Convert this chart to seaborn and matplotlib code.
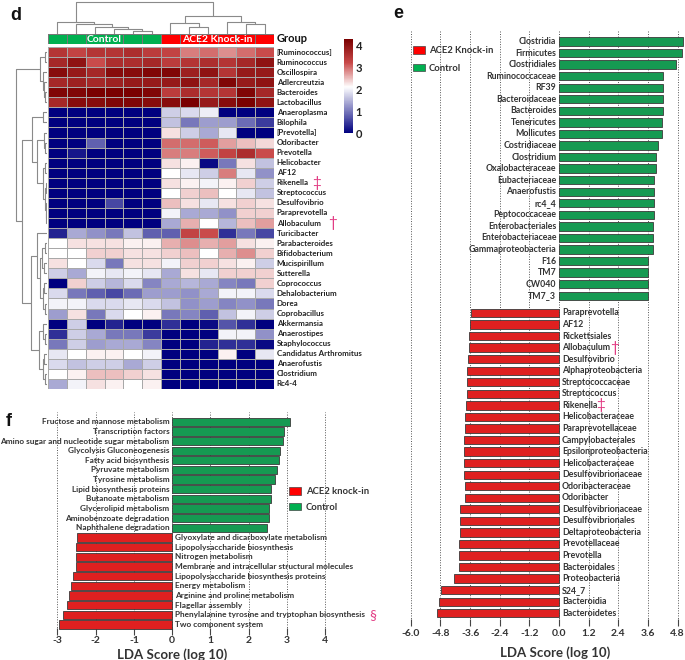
import numpy as np
import pandas as pd
import matplotlib
matplotlib.use('Agg')
import matplotlib.pyplot as plt
import seaborn as sns
from matplotlib.colors import LinearSegmentedColormap, ListedColormap
from matplotlib.patches import Patch

# ======================
# DATA - panel d (heatmap of genus abundance, log scale)
# ======================
genera = ['[Ruminococcus]', 'Ruminococcus', 'Oscillospira', 'Adlercreutzia', 'Bacteroides',
          'Lactobacillus', 'Anaeroplasma', 'Bilophila', '[Prevotella]', 'Odoribacter',
          'Prevotella', 'Helicobacter', 'AF12', 'Rikenella', 'Streptococcus', 'Desulfovibrio',
          'Paraprevotella', 'Allobaculum', 'Turicibacter', 'Parabacteroides', 'Bifidobacterium',
          'Mucispirillum', 'Sutterella', 'Coprococcus', 'Dehalobacterium', 'Dorea',
          'Coprobacillus', 'Akkermansia', 'Anaerostipes', 'Staphylococcus',
          'Candidatus Arthromitus', 'Anaerofustis', 'Clostridium', 'Rc4-4']
samples = ['C1', 'C2', 'C3', 'C4', 'C5', 'C6', 'K1', 'K2', 'K3', 'K4', 'K5', 'K6']
sample_group = ['Control'] * 6 + ['ACE2 Knock-in'] * 6

ctrl_abund = [
    [3.5, 3.3, 3.5, 3.5, 3.6, 3.4], [3.7, 4.0, 3.2, 3.6, 3.6, 3.7],
    [4.1, 3.9, 3.7, 4.1, 4.1, 4.2], [3.7, 3.8, 3.7, 3.8, 3.9, 3.9],
    [4.2, 4.2, 4.3, 4.3, 4.3, 4.2], [3.7, 4.1, 4.1, 4.2, 4.2, 4.1],
    [0, 0, 0, 0, 0, 0], [0, 0, 0, 0, 0, 0], [0, 0, 0, 0, 0, 0],
    [0, 0, 0.8, 0, 0, 0], [0, 0.2, 0, 0, 0, 0], [0, 0, 0, 0, 0, 0],
    [0, 0, 0, 0, 0, 0], [0, 0, 0, 0, 0, 0], [0, 0, 0, 0, 0, 0],
    [0, 0, 0, 0.6, 0, 0], [0, 0, 0, 0, 0, 0], [0, 0, 0, 0, 0, 0],
    [0.3, 1.4, 1.2, 1.0, 1.6, 0.8], [2.1, 2.3, 2.3, 2.3, 2.2, 2.2],
    [2.1, 2.1, 2.4, 2.4, 2.3, 2.3], [2.3, 2.1, 1.8, 1.0, 2.3, 2.3],
    [1.7, 1.4, 2.0, 1.9, 2.0, 1.9], [0, 2.4, 1.7, 1.5, 1.8, 1.1],
    [1.8, 1.0, 0.8, 0.6, 0.9, 1.3], [2.0, 2.0, 1.8, 1.8, 1.9, 1.8],
    [1.3, 2.3, 1.0, 1.8, 2.1, 2.2], [0, 1.7, 0, 0.3, 0, 0],
    [0.4, 1.7, 1.4, 1.0, 1.0, 0.5], [1.0, 1.7, 1.3, 1.4, 1.4, 1.1],
    [1.9, 2.1, 2.2, 2.2, 2.1, 2.0], [1.8, 1.6, 1.7, 1.7, 1.4, 1.7],
    [2.1, 2.2, 2.5, 2.5, 2.4, 2.3], [1.4, 2.0, 2.3, 2.2, 2.1, 2.2],
]
ace2_abund = [
    [3.3, 2.9, 3.0, 2.8, 3.0, 3.2], [3.4, 3.5, 3.6, 3.5, 3.7, 4.0],
    [4.2, 3.8, 4.0, 3.5, 3.9, 3.9], [3.9, 4.0, 3.7, 4.2, 3.9, 4.0],
    [3.4, 3.6, 3.5, 3.5, 4.2, 3.7], [4.1, 4.3, 3.9, 4.1, 4.3, 4.0],
    [1.7, 1.8, 1.95, 0, 0, 0], [1.6, 1.0, 1.3, 1.3, 0.9, 0.5],
    [2.3, 1.7, 1.4, 1.9, 0, 0], [3.0, 3.0, 3.1, 2.7, 2.5, 2.35],
    [2.9, 2.9, 3.1, 3.3, 3.6, 3.2], [2.3, 2.2, 0.1, 1.0, 2.3, 1.6],
    [2.1, 1.9, 1.7, 2.9, 1.9, 1.2], [2.3, 2.2, 2.0, 2.2, 2.4, 1.7],
    [2.1, 2.4, 2.5, 2.1, 1.9, 1.6], [2.5, 2.3, 1.9, 2.3, 2.4, 2.3],
    [2.0, 1.4, 1.4, 1.2, 2.4, 2.4], [1.4, 2.6, 2.1, 1.5, 2.5, 2.7],
    [0.8, 3.3, 3.2, 0.4, 1.0, 0.6], [2.6, 2.8, 2.6, 2.7, 2.3, 2.2],
    [2.4, 2.5, 2.1, 2.6, 2.8, 2.4], [2.0, 2.4, 2.4, 2.3, 2.2, 1.7],
    [1.4, 2.3, 1.9, 2.4, 2.4, 2.4], [1.4, 1.5, 1.4, 1.1, 1.0, 2.4],
    [1.3, 1.2, 1.4, 2.0, 2.0, 1.8], [1.6, 1.2, 1.3, 1.1, 1.2, 1.0],
    [1.0, 1.1, 0.8, 1.6, 2.0, 1.7], [0.4, 0, 0.1, 0.7, 0.4, 0],
    [0, 0, 0, 2.0, 2.0, 1.2], [0, 0, 0.3, 0.4, 0.4, 0.1],
    [0, 0, 0, 2.2, 0, 1.9], [0, 0, 0, 0, 0, 0],
    [0, 0, 0, 0, 0, 0], [0, 0, 0, 0, 0, 0],
]

# cluster trees: (left, right, height), leaves are row/column indices
row_tree = (((0, 1, 2), (2, (3, (4, 5, 2), 3), 4), 7),
            (((6, 7, 4),
              ((8, (9, 10, 2), 3), ((11, 12, 2), ((13, 14, 1), (15, (16, 17, 1), 1.5), 2), 4), 10),
              15),
             ((18, (((19, 20, 2), (21, 22, 3), 5), ((23, 24, 3), (25, 26, 2), 4), 7), 10),
              ((27, (28, 29, 2), 4), ((30, 31, 3), (32, 33, 2), 4), 8),
              16),
             25),
            31)
col_tree = ((0, (1, (2, (3, (4, 5, 8), 15), 20), 28), 35),
            ((6, (7, 8, 20), 33), (9, (10, 11, 28), 35), 52),
            95)

# ======================
# DATA - panel e (LEfSe taxa)
# ======================
e_ctrl_taxa = ['Clostridia', 'Firmicutes', 'Clostridiales', 'Ruminococcaceae', 'RF39',
               'Bacteroidaceae', 'Bacteroides', 'Tenericutes', 'Mollicutes', 'Costridiaceae',
               'Clostridium', 'Oxalobacteraceae', 'Eubacteriaceae', 'Anaerofustis', 'rc4_4',
               'Peptococcaceae', 'Enterobacteriales', 'Enterobacteriaceae',
               'Gammaproteobacteria', 'F16', 'TM7', 'CW040', 'TM7_3']
e_ctrl_lda = [5.03, 4.97, 4.72, 4.22, 4.20, 4.20, 4.22, 4.16, 4.16, 4.02, 3.91, 3.91,
              3.85, 3.84, 3.83, 3.84, 3.79, 3.79, 3.79, 3.62, 3.62, 3.62, 3.62]
e_ace2_taxa = ['Paraprevotella', 'AF12', 'Rickettsiales', 'Allobaculum', 'Desulfovibrio',
               'Alphaproteobacteria', 'Streptococcaceae', 'Streptococcus', 'Rikenella',
               'Helicobacteraceae', 'Paraprevotellaceae', 'Campylobacterales',
               'Epsilonproteobacteria', 'Helicobacteraceae', 'Desulfovibrionaceae',
               'Odoribacteraceae', 'Odoribacter', 'Desulfovibrionaceae', 'Desulfovibrionales',
               'Deltaproteobacteria', 'Prevotellaceae', 'Prevotella', 'Bacteroidales',
               'Proteobacteria', 'S24_7', 'Bacteroidia', 'Bacteroidetes']
e_ace2_lda = [-3.56, -3.59, -3.63, -3.63, -3.70, -3.71, -3.71, -3.71, -3.77, -3.81, -3.81,
              -3.83, -3.83, -3.83, -3.83, -3.82, -3.82, -4.01, -4.01, -4.01, -4.06, -4.06,
              -4.06, -4.25, -4.79, -4.87, -4.95]
e_ticks = [-6.0, -4.8, -3.6, -2.4, -1.2, 0.0, 1.2, 2.4, 3.6, 4.8]

# ======================
# DATA - panel f (predicted KEGG pathways)
# ======================
f_ctrl_paths = ['Fructose and mannose metabolism', 'Transcription factors',
                'Amino sugar and nucleotide sugar metabolism', 'Glycolysis Gluconeogenesis',
                'Fatty acid biosynthesis', 'Pyruvate metabolism', 'Tyrosine metabolism',
                'Lipid biosynthesis proteins', 'Butanoate metabolism', 'Glycerolipid metabolism',
                'Aminobenzoate degradation', 'Naphthalene degradation']
f_ctrl_lda = [3.09, 2.93, 2.90, 2.81, 2.78, 2.73, 2.68, 2.58, 2.58, 2.52, 2.52, 2.48]
f_ace2_paths = ['Glyoxylate and dicarboxylate metabolism', 'Lipopolysaccharide biosynthesis',
                'Nitrogen metabolism', 'Membrane and intracellular structural molecules',
                'Lipopolysaccharide biosynthesis proteins', 'Energy metabolism',
                'Arginine and proline metabolism', 'Flagellar assembly',
                'Phenylalanine tyrosine and tryptophan biosynthesis', 'Two component system']
f_ace2_lda = [-2.50, -2.51, -2.52, -2.52, -2.58, -2.64, -2.71, -2.75, -2.86, -2.96]
f_ticks = [-3, -2, -1, 0, 1, 2, 3, 4]

GREEN = '#00b050'
RED = '#ff0000'
PINK = '#e23d84'
TXT = '#333333'

sns.set_style('white')
plt.rcParams['font.family'] = ['Lato', 'DejaVu Sans']

W, H = 685, 660
fig = plt.figure(figsize=(W / 100, H / 100), dpi=100)
renderer = fig.canvas.get_renderer()


def px_axes(x0, y0, x1, y1):
    # axes from pixel box (top-left origin)
    return fig.add_axes([x0 / W, 1 - y1 / H, (x1 - x0) / W, (y1 - y0) / H])


def fit_width(texts, ref, target_px):
    # scale a group of labels so that one reference label gets the wanted pixel width
    w = ref.get_window_extent(renderer).width
    k = target_px / w
    for t in texts:
        t.set_fontsize(t.get_fontsize() * k)


def draw_tree(ax, node, side):
    if isinstance(node, int):
        return node + 0.5, 0.0
    left, right, h = node
    p1, h1 = draw_tree(ax, left, side)
    p2, h2 = draw_tree(ax, right, side)
    pos = [p1, p1, p2, p2]
    hts = [h1, h, h, h2]
    if side == 'top':
        ax.plot(pos, hts, color='#8a8a8a', lw=0.8)
    else:
        ax.plot(hts, pos, color='#8a8a8a', lw=0.8)
    return (p1 + p2) / 2, h


# ======================
# PANEL d
# ======================
abund = pd.DataFrame(np.hstack([np.array(ctrl_abund), np.array(ace2_abund)]),
                     index=genera, columns=samples)
cmap = LinearSegmentedColormap.from_list(
    'nwr', [(0, '#00007f'), (0.49, '#ffffff'), (0.75, '#c84848'), (1, '#7a0000')])

ax_hm = px_axes(48, 47, 274, 389)
ax_cb = px_axes(344, 39, 353, 133)
sns.heatmap(abund, ax=ax_hm, cmap=cmap, vmin=0, vmax=4.3, cbar_ax=ax_cb,
            linewidths=0.5, linecolor='#a8a8a8', xticklabels=False, yticklabels=False)
ax_hm.set_xlabel('')
ax_hm.set_ylabel('')
cb = ax_hm.collections[0].colorbar
cb.set_ticks([0, 1, 2, 3, 4])
cb.outline.set_visible(False)
cb.ax.tick_params(length=0, labelsize=8, pad=2, labelcolor='#222222')
for t in cb.ax.get_yticklabels():
    t.set_fontweight('bold')

row_labels = {}
for i, g in enumerate(genera):
    row_labels[g] = ax_hm.text(1.012, i + 0.5, g, transform=ax_hm.get_yaxis_transform(),
                               ha='left', va='center', fontsize=6.0, fontweight='bold',
                               color='#222222')
fit_width(row_labels.values(), row_labels['Candidatus Arthromitus'], 84)
ax_hm.annotate('‡', xy=(1, 0.5), xycoords=row_labels['Rikenella'], xytext=(2.5, 0),
               textcoords='offset points', ha='left', va='center', fontsize=11, color=PINK)
ax_hm.annotate('†', xy=(1, 0.5), xycoords=row_labels['Allobaculum'], xytext=(5, 0),
               textcoords='offset points', ha='left', va='center', fontsize=11, color=PINK)

# group annotation bar
ax_grp = px_axes(48, 34, 274, 44)
codes = pd.DataFrame([[0 if g == 'Control' else 1 for g in sample_group]])
sns.heatmap(codes, ax=ax_grp, cmap=ListedColormap([GREEN, RED]), vmin=0, vmax=1, cbar=False,
            linewidths=0.5, linecolor='#777777', xticklabels=False, yticklabels=False)
ax_grp.set_xlabel('')
ax_grp.set_ylabel('')
for grp in ['Control', 'ACE2 Knock-in']:
    idx = [i for i, g in enumerate(sample_group) if g == grp]
    ax_grp.text(np.mean(idx) + 0.5, 0.5, grp, ha='center', va='center', color='white',
                fontsize=7.5, fontweight='bold')
ax_grp.text(1.012, 0.5, 'Group', transform=ax_grp.transAxes, ha='left', va='center',
            fontsize=8, fontweight='bold', color='#111111')

# dendrograms
ax_top = px_axes(48, 0.5, 274, 33.5)
draw_tree(ax_top, col_tree, 'top')
ax_top.set_xlim(0, len(samples))
ax_top.set_ylim(0, 99)
ax_top.axis('off')

ax_left = px_axes(14, 47, 47, 389)
draw_tree(ax_left, row_tree, 'left')
ax_left.set_ylim(len(genera), 0)
ax_left.set_xlim(33, 0)
ax_left.axis('off')


# ======================
# PANELS e / f (LDA bar charts)
# ======================
def lda_panel(ax, names, scores, groups, positions, palette, fs, bar_w):
    frame = pd.DataFrame({'name': names, 'lda': scores, 'group': groups, 'pos': positions})
    sns.barplot(data=frame, x='lda', y='pos', hue='group', orient='h', native_scale=True,
                palette=palette, width=bar_w, dodge=False, errorbar=None,
                edgecolor='#3a3a3a', linewidth=0.6, legend=False, ax=ax)
    labels = {}
    for name, score, y in zip(names, scores, positions):
        if score > 0:
            t = ax.annotate(name, xy=(0, y), xytext=(-2, 0), textcoords='offset points',
                            ha='right', va='center', fontsize=fs, fontweight='bold', color=TXT)
        else:
            t = ax.annotate(name, xy=(0, y), xytext=(2.2, 0), textcoords='offset points',
                            ha='left', va='center', fontsize=fs, fontweight='bold', color=TXT)
        labels[name] = t
    ax.set_yticks([])
    ax.set_ylabel('')
    for s in ax.spines.values():
        s.set_visible(False)
    ax.grid(axis='x', linestyle=(0, (1, 1.6)), color='#555555', linewidth=0.7)
    ax.grid(axis='y', visible=False)
    ax.set_axisbelow(True)
    ax.tick_params(axis='x', direction='in', length=5, width=0.8, color='#444444',
                   labelsize=7.5, labelcolor=TXT, bottom=True)
    return labels


# panel e
ax_e = px_axes(409.6, 30, 684.5, 626)
e_names = e_ctrl_taxa + e_ace2_taxa
e_scores = e_ctrl_lda + e_ace2_lda
e_groups = ['Control'] * len(e_ctrl_taxa) + ['ACE2 Knock-in'] * len(e_ace2_taxa)
e_pos = list(np.arange(len(e_ctrl_taxa))) + list(np.arange(len(e_ace2_taxa)) + len(e_ctrl_taxa) + 0.5)
e_labels = lda_panel(ax_e, e_names, e_scores, e_groups, e_pos,
                     {'Control': GREEN, 'ACE2 Knock-in': RED}, 7.4, 0.72)
ax_e.set_xlim(-6.05, 5.08)
ax_e.set_ylim(50.6, -1.0)
fit_width(ax_e.texts, e_labels['Gammaproteobacteria'], 88)
ax_e.set_xticks(e_ticks)
ax_e.set_xticklabels([f'{v:.1f}' for v in e_ticks], fontweight='bold')
ax_e.tick_params(axis='x', pad=2)
ax_e.set_xlabel('LDA Score (log 10)', fontsize=9.5, fontweight='bold', color=TXT)
ax_e.xaxis.set_label_coords(0.529, -0.034)
ax_e.annotate('†', xy=(1, 0.5), xycoords=e_labels['Allobaculum'], xytext=(0, 0),
              textcoords='offset points', ha='left', va='center', fontsize=11, color=PINK)
ax_e.annotate('‡', xy=(1, 0.5), xycoords=e_labels['Rikenella'], xytext=(-1, 0),
              textcoords='offset points', ha='left', va='center', fontsize=11, color=PINK)
ax_e.legend(handles=[Patch(fc=RED, ec='#444444', lw=0.5, label='ACE2 Knock-in'),
                     Patch(fc=GREEN, ec='#444444', lw=0.5, label='Control')],
            loc='upper left', bbox_to_anchor=(413 / W, 1 - 46 / H), bbox_transform=fig.transFigure,
            frameon=False, prop={'size': 6.8, 'weight': 'bold'}, labelcolor=TXT,
            handlelength=1.3, handleheight=0.85, handletextpad=0.4, labelspacing=0.9,
            borderpad=0, borderaxespad=0)

# panel f
ax_f = px_axes(55.5, 411.7, 329, 635)
f_names = f_ctrl_paths + f_ace2_paths
f_scores = f_ctrl_lda + f_ace2_lda
f_groups = ['Control'] * len(f_ctrl_paths) + ['ACE2 knock-in'] * len(f_ace2_paths)
f_pos = list(np.arange(len(f_names)))
f_labels = lda_panel(ax_f, f_names, f_scores, f_groups, f_pos,
                     {'Control': GREEN, 'ACE2 knock-in': RED}, 6.5, 0.86)
ax_f.set_xlim(-3.05, 4.1)
ax_f.set_ylim(22.1, -1.04)
fit_width(ax_f.texts, f_labels['Amino sugar and nucleotide sugar metabolism'], 169)
ax_f.set_xticks(f_ticks)
ax_f.set_xticklabels([str(v) for v in f_ticks], fontweight='bold')
ax_f.tick_params(axis='x', pad=1)
ax_f.set_xlabel('LDA Score (log 10)', fontsize=9.5, fontweight='bold', color=TXT)
ax_f.xaxis.set_label_coords(0.427, -0.058)
ax_f.annotate('§', xy=(1, 0.5), xycoords=f_labels['Phenylalanine tyrosine and tryptophan biosynthesis'],
              xytext=(3, 0), textcoords='offset points', ha='left', va='center', fontsize=10,
              color=PINK)
ax_f.legend(handles=[Patch(fc=RED, ec='#444444', lw=0.5, label='ACE2 knock-in'),
                     Patch(fc=GREEN, ec='#444444', lw=0.5, label='Control')],
            loc='upper left', bbox_to_anchor=(289 / W, 1 - 487 / H), bbox_transform=fig.transFigure,
            frameon=False, prop={'size': 6.8, 'weight': 'bold'}, labelcolor=TXT,
            handlelength=1.3, handleheight=0.85, handletextpad=0.5, labelspacing=0.7,
            borderpad=0, borderaxespad=0)

# panel letters
for letter, (x, y) in {'d': (10, 15), 'e': (393, 13), 'f': (6, 422)}.items():
    fig.text(x / W, 1 - y / H, letter, fontsize=13, fontweight='bold', va='center', ha='left',
             family=['Liberation Sans', 'DejaVu Sans'], color='#111111')

fig.savefig('out.png', dpi=100)
